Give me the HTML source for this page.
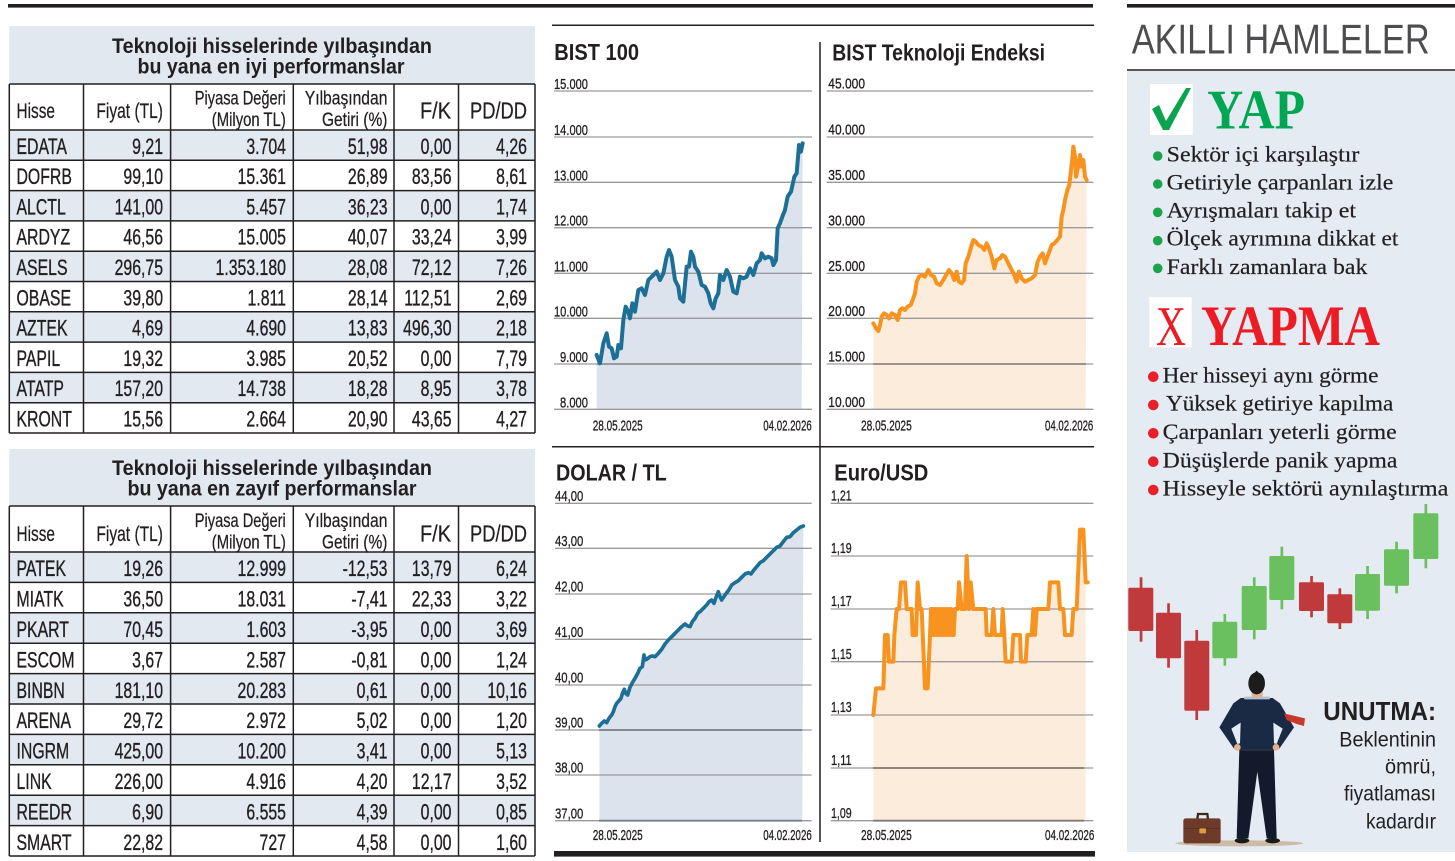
<!DOCTYPE html>
<html><head><meta charset="utf-8"><style>
html,body{margin:0;padding:0;background:#fff;}
svg{display:block;}
</style></head><body>
<svg width="1455" height="861" viewBox="0 0 1455 861" xmlns="http://www.w3.org/2000/svg" font-family="Liberation Sans, sans-serif">
<rect width="1455" height="861" fill="#fff"/>
<!-- top bars -->
<rect x="8" y="4" width="1085" height="3.6" fill="#231f20"/>
<rect x="1127" y="4" width="328" height="3.6" fill="#231f20"/>

<!-- ================= TABLE 1 ================= -->
<rect x="9.3" y="26" width="525.7" height="58" fill="#e1e8f0"/>
<g fill="#e3e9f1">
<rect x="9.3" y="130" width="525.7" height="30.3"/>
<rect x="9.3" y="190.6" width="525.7" height="30.3"/>
<rect x="9.3" y="251.2" width="525.7" height="30.3"/>
<rect x="9.3" y="311.8" width="525.7" height="30.3"/>
<rect x="9.3" y="372.4" width="525.7" height="30.3"/>
</g>
<g fill="#231f20" font-weight="bold" font-size="21" text-anchor="middle">
<text x="272" y="53" textLength="320" lengthAdjust="spacingAndGlyphs">Teknoloji hisselerinde yılbaşından</text>
<text x="271" y="73.5" textLength="267" lengthAdjust="spacingAndGlyphs">bu yana en iyi performanslar</text>
</g>
<g stroke="#231f20" stroke-width="1.5">
<line x1="9.3" y1="84" x2="535" y2="84"/>
<line x1="9.3" y1="130" x2="535" y2="130"/>
<line x1="9.3" y1="160.3" x2="535" y2="160.3"/>
<line x1="9.3" y1="190.6" x2="535" y2="190.6"/>
<line x1="9.3" y1="220.9" x2="535" y2="220.9"/>
<line x1="9.3" y1="251.2" x2="535" y2="251.2"/>
<line x1="9.3" y1="281.5" x2="535" y2="281.5"/>
<line x1="9.3" y1="311.8" x2="535" y2="311.8"/>
<line x1="9.3" y1="342.1" x2="535" y2="342.1"/>
<line x1="9.3" y1="372.4" x2="535" y2="372.4"/>
<line x1="9.3" y1="402.7" x2="535" y2="402.7"/>
<line x1="9.3" y1="433" x2="535" y2="433"/>
<line x1="9.3" y1="84" x2="9.3" y2="433"/>
<line x1="83.5" y1="84" x2="83.5" y2="433"/>
<line x1="170.6" y1="84" x2="170.6" y2="433"/>
<line x1="293.3" y1="84" x2="293.3" y2="433"/>
<line x1="394" y1="84" x2="394" y2="433"/>
<line x1="458.5" y1="84" x2="458.5" y2="433"/>
<line x1="535" y1="84" x2="535" y2="433"/>
</g>
<g fill="#231f20" font-size="21" stroke="#231f20" stroke-width="0.25">
<text x="16.5" y="118" textLength="38.5" lengthAdjust="spacingAndGlyphs">Hisse</text>
<text x="163" y="118" text-anchor="end" textLength="66.6" lengthAdjust="spacingAndGlyphs">Fiyat (TL)</text>
<text x="285.8" y="104.5" text-anchor="end" font-size="19" textLength="91" lengthAdjust="spacingAndGlyphs">Piyasa Değeri</text>
<text x="285.8" y="126" text-anchor="end" font-size="19" textLength="74" lengthAdjust="spacingAndGlyphs">(Milyon TL)</text>
<text x="387.4" y="104.5" text-anchor="end" font-size="19" textLength="82.6" lengthAdjust="spacingAndGlyphs">Yılbaşından</text>
<text x="387.4" y="126" text-anchor="end" font-size="19" textLength="65.4" lengthAdjust="spacingAndGlyphs">Getiri (%)</text>
<text x="451" y="118.5" text-anchor="end" font-size="23" textLength="31" lengthAdjust="spacingAndGlyphs">F/K</text>
<text x="527" y="118.5" text-anchor="end" font-size="23" textLength="57" lengthAdjust="spacingAndGlyphs">PD/DD</text>
</g>
<g fill="#231f20" font-size="22" transform="scale(0.72 1)" stroke="#231f20" stroke-width="0.35">
<g>
<text x="22.9" y="153.8">EDATA</text><text x="22.9" y="184.1">DOFRB</text><text x="22.9" y="214.4">ALCTL</text><text x="22.9" y="244.7">ARDYZ</text><text x="22.9" y="275">ASELS</text><text x="22.9" y="305.3">OBASE</text><text x="22.9" y="335.6">AZTEK</text><text x="22.9" y="365.9">PAPIL</text><text x="22.9" y="396.2">ATATP</text><text x="22.9" y="426.5">KRONT</text>
</g>
<g text-anchor="end">
<text x="226.4" y="153.8">9,21</text><text x="226.4" y="184.1">99,10</text><text x="226.4" y="214.4">141,00</text><text x="226.4" y="244.7">46,56</text><text x="226.4" y="275">296,75</text><text x="226.4" y="305.3">39,80</text><text x="226.4" y="335.6">4,69</text><text x="226.4" y="365.9">19,32</text><text x="226.4" y="396.2">157,20</text><text x="226.4" y="426.5">15,56</text>
<text x="397.2" y="153.8">3.704</text><text x="397.2" y="184.1">15.361</text><text x="397.2" y="214.4">5.457</text><text x="397.2" y="244.7">15.005</text><text x="397.2" y="275">1.353.180</text><text x="397.2" y="305.3">1.811</text><text x="397.2" y="335.6">4.690</text><text x="397.2" y="365.9">3.985</text><text x="397.2" y="396.2">14.738</text><text x="397.2" y="426.5">2.664</text>
<text x="538.2" y="153.8">51,98</text><text x="538.2" y="184.1">26,89</text><text x="538.2" y="214.4">36,23</text><text x="538.2" y="244.7">40,07</text><text x="538.2" y="275">28,08</text><text x="538.2" y="305.3">28,14</text><text x="538.2" y="335.6">13,83</text><text x="538.2" y="365.9">20,52</text><text x="538.2" y="396.2">18,28</text><text x="538.2" y="426.5">20,90</text>
<text x="627.1" y="153.8">0,00</text><text x="627.1" y="184.1">83,56</text><text x="627.1" y="214.4">0,00</text><text x="627.1" y="244.7">33,24</text><text x="627.1" y="275">72,12</text><text x="627.1" y="305.3">112,51</text><text x="627.1" y="335.6">496,30</text><text x="627.1" y="365.9">0,00</text><text x="627.1" y="396.2">8,95</text><text x="627.1" y="426.5">43,65</text>
<text x="731.9" y="153.8">4,26</text><text x="731.9" y="184.1">8,61</text><text x="731.9" y="214.4">1,74</text><text x="731.9" y="244.7">3,99</text><text x="731.9" y="275">7,26</text><text x="731.9" y="305.3">2,69</text><text x="731.9" y="335.6">2,18</text><text x="731.9" y="365.9">7,79</text><text x="731.9" y="396.2">3,78</text><text x="731.9" y="426.5">4,27</text>
</g>
</g>

<!-- ================= TABLE 2 ================= -->
<rect x="9.3" y="449" width="525.7" height="57" fill="#e1e8f0"/>
<g fill="#e3e9f1">
<rect x="9.3" y="552" width="525.7" height="30.4"/>
<rect x="9.3" y="612.8" width="525.7" height="30.4"/>
<rect x="9.3" y="673.6" width="525.7" height="30.4"/>
<rect x="9.3" y="734.4" width="525.7" height="30.4"/>
<rect x="9.3" y="795.2" width="525.7" height="30.4"/>
</g>
<g fill="#231f20" font-weight="bold" font-size="21" text-anchor="middle">
<text x="272" y="475" textLength="320" lengthAdjust="spacingAndGlyphs">Teknoloji hisselerinde yılbaşından</text>
<text x="272" y="495.5" textLength="289" lengthAdjust="spacingAndGlyphs">bu yana en zayıf performanslar</text>
</g>
<g stroke="#231f20" stroke-width="1.5">
<line x1="9.3" y1="506" x2="535" y2="506"/>
<line x1="9.3" y1="552" x2="535" y2="552"/>
<line x1="9.3" y1="582.4" x2="535" y2="582.4"/>
<line x1="9.3" y1="612.8" x2="535" y2="612.8"/>
<line x1="9.3" y1="643.2" x2="535" y2="643.2"/>
<line x1="9.3" y1="673.6" x2="535" y2="673.6"/>
<line x1="9.3" y1="704" x2="535" y2="704"/>
<line x1="9.3" y1="734.4" x2="535" y2="734.4"/>
<line x1="9.3" y1="764.8" x2="535" y2="764.8"/>
<line x1="9.3" y1="795.2" x2="535" y2="795.2"/>
<line x1="9.3" y1="825.6" x2="535" y2="825.6"/>
<line x1="9.3" y1="856" x2="535" y2="856"/>
<line x1="9.3" y1="506" x2="9.3" y2="856"/>
<line x1="83.5" y1="506" x2="83.5" y2="856"/>
<line x1="170.6" y1="506" x2="170.6" y2="856"/>
<line x1="293.3" y1="506" x2="293.3" y2="856"/>
<line x1="394" y1="506" x2="394" y2="856"/>
<line x1="458.5" y1="506" x2="458.5" y2="856"/>
<line x1="535" y1="506" x2="535" y2="856"/>
</g>
<g fill="#231f20" font-size="21" stroke="#231f20" stroke-width="0.25">
<text x="16.5" y="541" textLength="38.5" lengthAdjust="spacingAndGlyphs">Hisse</text>
<text x="163" y="541" text-anchor="end" textLength="66.6" lengthAdjust="spacingAndGlyphs">Fiyat (TL)</text>
<text x="285.8" y="527" text-anchor="end" font-size="19" textLength="91" lengthAdjust="spacingAndGlyphs">Piyasa Değeri</text>
<text x="285.8" y="548.5" text-anchor="end" font-size="19" textLength="74" lengthAdjust="spacingAndGlyphs">(Milyon TL)</text>
<text x="387.4" y="527" text-anchor="end" font-size="19" textLength="82.6" lengthAdjust="spacingAndGlyphs">Yılbaşından</text>
<text x="387.4" y="548.5" text-anchor="end" font-size="19" textLength="65.4" lengthAdjust="spacingAndGlyphs">Getiri (%)</text>
<text x="451" y="541.5" text-anchor="end" font-size="23" textLength="31" lengthAdjust="spacingAndGlyphs">F/K</text>
<text x="527" y="541.5" text-anchor="end" font-size="23" textLength="57" lengthAdjust="spacingAndGlyphs">PD/DD</text>
</g>
<g fill="#231f20" font-size="22" transform="scale(0.72 1)" stroke="#231f20" stroke-width="0.35">
<g>
<text x="22.9" y="576.2">PATEK</text><text x="22.9" y="606.6">MIATK</text><text x="22.9" y="637">PKART</text><text x="22.9" y="667.4">ESCOM</text><text x="22.9" y="697.8">BINBN</text><text x="22.9" y="728.2">ARENA</text><text x="22.9" y="758.6">INGRM</text><text x="22.9" y="789">LINK</text><text x="22.9" y="819.4">REEDR</text><text x="22.9" y="849.8">SMART</text>
</g>
<g text-anchor="end">
<text x="226.4" y="576.2">19,26</text><text x="226.4" y="606.6">36,50</text><text x="226.4" y="637">70,45</text><text x="226.4" y="667.4">3,67</text><text x="226.4" y="697.8">181,10</text><text x="226.4" y="728.2">29,72</text><text x="226.4" y="758.6">425,00</text><text x="226.4" y="789">226,00</text><text x="226.4" y="819.4">6,90</text><text x="226.4" y="849.8">22,82</text>
<text x="397.2" y="576.2">12.999</text><text x="397.2" y="606.6">18.031</text><text x="397.2" y="637">1.603</text><text x="397.2" y="667.4">2.587</text><text x="397.2" y="697.8">20.283</text><text x="397.2" y="728.2">2.972</text><text x="397.2" y="758.6">10.200</text><text x="397.2" y="789">4.916</text><text x="397.2" y="819.4">6.555</text><text x="397.2" y="849.8">727</text>
<text x="538.2" y="576.2">-12,53</text><text x="538.2" y="606.6">-7,41</text><text x="538.2" y="637">-3,95</text><text x="538.2" y="667.4">-0,81</text><text x="538.2" y="697.8">0,61</text><text x="538.2" y="728.2">5,02</text><text x="538.2" y="758.6">3,41</text><text x="538.2" y="789">4,20</text><text x="538.2" y="819.4">4,39</text><text x="538.2" y="849.8">4,58</text>
<text x="627.1" y="576.2">13,79</text><text x="627.1" y="606.6">22,33</text><text x="627.1" y="637">0,00</text><text x="627.1" y="667.4">0,00</text><text x="627.1" y="697.8">0,00</text><text x="627.1" y="728.2">0,00</text><text x="627.1" y="758.6">0,00</text><text x="627.1" y="789">12,17</text><text x="627.1" y="819.4">0,00</text><text x="627.1" y="849.8">0,00</text>
<text x="731.9" y="576.2">6,24</text><text x="731.9" y="606.6">3,22</text><text x="731.9" y="637">3,69</text><text x="731.9" y="667.4">1,24</text><text x="731.9" y="697.8">10,16</text><text x="731.9" y="728.2">1,20</text><text x="731.9" y="758.6">5,13</text><text x="731.9" y="789">3,52</text><text x="731.9" y="819.4">0,85</text><text x="731.9" y="849.8">1,60</text>
</g>
</g>

<!-- ================= CHART FRAME ================= -->
<g stroke="#231f20" stroke-width="1.5">
<line x1="552" y1="25.3" x2="1094" y2="25.3"/>
<line x1="552" y1="446.7" x2="1094" y2="446.7"/>
<line x1="820" y1="42" x2="820" y2="842"/>
</g>
<rect x="554" y="851" width="541" height="5.6" fill="#231f20"/>

<!-- ===== BIST 100 ===== -->
<g transform="translate(545 0) scale(0.33333)">
<polygon fill="#dce3ed" points="155,1065 165,1090 175,1030 185,1000 192,1040 200,1045 207,1075 215,1070 220,1035 228,1045 235,960 242,920 250,935 255,955 262,910 270,935 280,870 290,865 300,885 310,840 320,830 335,815 345,840 355,820 365,770 372,750 380,770 390,840 400,860 405,895 415,905 425,800 432,800 438,755 445,770 450,800 460,815 470,855 480,860 490,880 497,910 505,925 512,895 520,880 525,825 535,840 545,810 555,830 565,875 575,880 585,830 595,835 605,830 615,805 625,825 635,790 645,780 650,760 660,775 670,770 680,775 685,795 693,780 698,685 705,670 712,650 720,630 728,590 738,575 748,530 755,520 762,435 768,455 773,430 770,1228 155,1228"/>
</g>
<g stroke="#9a9a9a" stroke-width="1.3">
<line x1="554" y1="91" x2="812" y2="91"/><line x1="554" y1="137" x2="812" y2="137"/><line x1="554" y1="182.3" x2="812" y2="182.3"/><line x1="554" y1="227.7" x2="812" y2="227.7"/><line x1="554" y1="273.3" x2="812" y2="273.3"/><line x1="554" y1="318.3" x2="812" y2="318.3"/><line x1="554" y1="364" x2="812" y2="364"/><line x1="554" y1="409.3" x2="812" y2="409.3"/>
</g>
<line x1="597" y1="364" x2="801" y2="364" stroke="#888" stroke-width="1.5"/>
<g transform="translate(545 0) scale(0.33333)">
<polyline fill="none" stroke="#1d6f96" stroke-width="12" stroke-linejoin="round" stroke-linecap="round" points="155,1065 165,1090 175,1030 185,1000 192,1040 200,1045 207,1075 215,1070 220,1035 228,1045 235,960 242,920 250,935 255,955 262,910 270,935 280,870 290,865 300,885 310,840 320,830 335,815 345,840 355,820 365,770 372,750 380,770 390,840 400,860 405,895 415,905 425,800 432,800 438,755 445,770 450,800 460,815 470,855 480,860 490,880 497,910 505,925 512,895 520,880 525,825 535,840 545,810 555,830 565,875 575,880 585,830 595,835 605,830 615,805 625,825 635,790 645,780 650,760 660,775 670,770 680,775 685,795 693,780 698,685 705,670 712,650 720,630 728,590 738,575 748,530 755,520 762,435 768,455 773,430"/>
</g>
<text x="554.3" y="60" font-size="23" font-weight="bold" fill="#231f20" textLength="84.7" lengthAdjust="spacingAndGlyphs">BIST 100</text>
<g font-size="15" fill="#231f20" stroke="#231f20" stroke-width="0.3" text-anchor="end">
<text x="588" y="89" textLength="34" lengthAdjust="spacingAndGlyphs">15.000</text>
<text x="588" y="135" textLength="34" lengthAdjust="spacingAndGlyphs">14.000</text>
<text x="588" y="180.3" textLength="34" lengthAdjust="spacingAndGlyphs">13.000</text>
<text x="588" y="225.7" textLength="34" lengthAdjust="spacingAndGlyphs">12.000</text>
<text x="588" y="271.3" textLength="34" lengthAdjust="spacingAndGlyphs">11.000</text>
<text x="588" y="316.3" textLength="34" lengthAdjust="spacingAndGlyphs">10.000</text>
<text x="588" y="362" textLength="28" lengthAdjust="spacingAndGlyphs">9.000</text>
<text x="588" y="407.3" textLength="28" lengthAdjust="spacingAndGlyphs">8.000</text>
</g>
<g font-size="15" fill="#231f20" stroke="#231f20" stroke-width="0.3">
<text x="592.7" y="430.7" textLength="50" lengthAdjust="spacingAndGlyphs">28.05.2025</text>
<text x="763.3" y="430.7" textLength="48.4" lengthAdjust="spacingAndGlyphs">04.02.2026</text>
</g>

<!-- ===== BIST TEKNOLOJI ===== -->
<g transform="translate(815 0) scale(0.33333)">
<polygon fill="#fcecdc" points="175,970 183,985 190,993 195,975 200,950 207,940 215,945 222,955 230,940 240,945 248,960 255,930 262,925 270,930 278,920 287,915 293,900 300,880 305,845 312,830 320,825 330,830 340,810 348,825 357,830 365,850 375,855 385,840 393,825 402,810 410,820 418,840 425,815 432,845 440,850 447,840 452,790 460,770 467,745 475,720 482,725 490,735 500,740 508,750 515,730 522,745 530,770 538,805 545,780 555,775 562,765 570,770 580,790 590,810 598,825 605,845 612,815 620,835 630,845 640,840 650,835 660,825 668,785 675,770 683,760 690,790 697,770 703,755 710,735 718,730 727,720 735,710 740,650 745,630 750,600 757,570 763,555 767,520 772,475 775,440 780,470 783,530 790,495 795,465 800,500 805,480 810,530 815,540 812,1228 175,1228"/>
</g>
<g stroke="#9a9a9a" stroke-width="1.3">
<line x1="826.7" y1="91" x2="1093.3" y2="91"/><line x1="826.7" y1="137" x2="1093.3" y2="137"/><line x1="826.7" y1="182.3" x2="1093.3" y2="182.3"/><line x1="826.7" y1="227.7" x2="1093.3" y2="227.7"/><line x1="826.7" y1="273.3" x2="1093.3" y2="273.3"/><line x1="826.7" y1="318.3" x2="1093.3" y2="318.3"/><line x1="826.7" y1="364" x2="1093.3" y2="364"/><line x1="826.7" y1="409.3" x2="1093.3" y2="409.3"/>
</g>
<line x1="873.3" y1="364" x2="1086" y2="364" stroke="#807a74" stroke-width="1.6"/>
<g transform="translate(815 0) scale(0.33333)">
<polyline fill="none" stroke="#f7931e" stroke-width="12" stroke-linejoin="round" stroke-linecap="round" points="175,970 183,985 190,993 195,975 200,950 207,940 215,945 222,955 230,940 240,945 248,960 255,930 262,925 270,930 278,920 287,915 293,900 300,880 305,845 312,830 320,825 330,830 340,810 348,825 357,830 365,850 375,855 385,840 393,825 402,810 410,820 418,840 425,815 432,845 440,850 447,840 452,790 460,770 467,745 475,720 482,725 490,735 500,740 508,750 515,730 522,745 530,770 538,805 545,780 555,775 562,765 570,770 580,790 590,810 598,825 605,845 612,815 620,835 630,845 640,840 650,835 660,825 668,785 675,770 683,760 690,790 697,770 703,755 710,735 718,730 727,720 735,710 740,650 745,630 750,600 757,570 763,555 767,520 772,475 775,440 780,470 783,530 790,495 795,465 800,500 805,480 810,530 815,540"/>
</g>
<text x="832.3" y="60.7" font-size="23" font-weight="bold" fill="#231f20" textLength="212.7" lengthAdjust="spacingAndGlyphs">BIST Teknoloji Endeksi</text>
<g font-size="15" fill="#231f20" stroke="#231f20" stroke-width="0.3">
<text x="828.3" y="88.7" textLength="36.7" lengthAdjust="spacingAndGlyphs">45.000</text>
<text x="828.3" y="134.7" textLength="36.7" lengthAdjust="spacingAndGlyphs">40.000</text>
<text x="828.3" y="180" textLength="36.7" lengthAdjust="spacingAndGlyphs">35.000</text>
<text x="828.3" y="225.4" textLength="36.7" lengthAdjust="spacingAndGlyphs">30.000</text>
<text x="828.3" y="271" textLength="36.7" lengthAdjust="spacingAndGlyphs">25.000</text>
<text x="828.3" y="316" textLength="36.7" lengthAdjust="spacingAndGlyphs">20.000</text>
<text x="828.3" y="361.7" textLength="36.7" lengthAdjust="spacingAndGlyphs">15.000</text>
<text x="828.3" y="407" textLength="36.7" lengthAdjust="spacingAndGlyphs">10.000</text>
<text x="861" y="430.7" textLength="50.7" lengthAdjust="spacingAndGlyphs">28.05.2025</text>
<text x="1045" y="430.7" textLength="48.3" lengthAdjust="spacingAndGlyphs">04.02.2026</text>
</g>

<!-- ===== DOLAR / TL ===== -->
<g transform="translate(545 440) scale(0.33333)">
<polygon fill="#dce3ed" points="163,858 170,850 178,843 185,848 192,835 200,825 205,815 210,800 215,790 222,782 228,775 233,758 238,748 242,760 248,765 255,742 262,728 270,715 278,700 285,685 292,680 297,645 300,660 305,658 315,650 322,648 330,650 340,640 350,628 360,612 370,600 380,590 390,580 400,570 410,560 420,552 428,558 435,560 442,545 450,535 458,520 465,515 475,505 485,495 492,485 500,480 507,490 512,475 520,455 525,470 530,480 540,465 550,452 560,435 570,428 580,422 590,412 600,402 610,398 618,402 625,392 635,380 645,368 655,362 665,352 675,342 685,332 695,322 705,318 715,305 725,292 735,290 745,278 755,270 765,262 775,258 772,1142 163,1142"/>
</g>
<g stroke="#9a9a9a" stroke-width="1.3">
<line x1="555" y1="503.3" x2="811.7" y2="503.3"/><line x1="555" y1="548.3" x2="811.7" y2="548.3"/><line x1="555" y1="594" x2="811.7" y2="594"/><line x1="555" y1="639.3" x2="811.7" y2="639.3"/><line x1="555" y1="685" x2="811.7" y2="685"/><line x1="555" y1="730" x2="811.7" y2="730"/><line x1="555" y1="775" x2="811.7" y2="775"/><line x1="555" y1="820.7" x2="811.7" y2="820.7"/>
</g>
<g stroke="#7a7f88" stroke-width="1.8">
<line x1="599" y1="730" x2="802" y2="730"/><line x1="599" y1="820.7" x2="802" y2="820.7"/>
</g>
<g transform="translate(545 440) scale(0.33333)">
<polyline fill="none" stroke="#1d6f96" stroke-width="11" stroke-linejoin="round" stroke-linecap="round" points="163,858 170,850 178,843 185,848 192,835 200,825 205,815 210,800 215,790 222,782 228,775 233,758 238,748 242,760 248,765 255,742 262,728 270,715 278,700 285,685 292,680 297,645 300,660 305,658 315,650 322,648 330,650 340,640 350,628 360,612 370,600 380,590 390,580 400,570 410,560 420,552 428,558 435,560 442,545 450,535 458,520 465,515 475,505 485,495 492,485 500,480 507,490 512,475 520,455 525,470 530,480 540,465 550,452 560,435 570,428 580,422 590,412 600,402 610,398 618,402 625,392 635,380 645,368 655,362 665,352 675,342 685,332 695,322 705,318 715,305 725,292 735,290 745,278 755,270 765,262 775,258"/>
</g>
<text x="556" y="480.7" font-size="23" font-weight="bold" fill="#231f20" textLength="110.7" lengthAdjust="spacingAndGlyphs">DOLAR / TL</text>
<g font-size="15" fill="#231f20" stroke="#231f20" stroke-width="0.3">
<text x="555" y="501" textLength="28.3" lengthAdjust="spacingAndGlyphs">44,00</text>
<text x="555" y="546" textLength="28.3" lengthAdjust="spacingAndGlyphs">43,00</text>
<text x="555" y="591.7" textLength="28.3" lengthAdjust="spacingAndGlyphs">42,00</text>
<text x="555" y="637" textLength="28.3" lengthAdjust="spacingAndGlyphs">41,00</text>
<text x="555" y="682.7" textLength="28.3" lengthAdjust="spacingAndGlyphs">40,00</text>
<text x="555" y="727.7" textLength="28.3" lengthAdjust="spacingAndGlyphs">39,00</text>
<text x="555" y="772.7" textLength="28.3" lengthAdjust="spacingAndGlyphs">38,00</text>
<text x="555" y="818.4" textLength="28.3" lengthAdjust="spacingAndGlyphs">37,00</text>
<text x="592.7" y="840" textLength="50" lengthAdjust="spacingAndGlyphs">28.05.2025</text>
<text x="763.3" y="840" textLength="48.4" lengthAdjust="spacingAndGlyphs">04.02.2026</text>
</g>

<!-- ===== EURO / USD ===== -->
<g transform="translate(815 440) scale(0.33333)">
<polygon fill="#fcecdc" points="175,825 183,745 205,745 210,585 218,585 222,665 235,665 238,585 245,507 252,507 258,427 270,427 275,507 290,507 293,585 303,585 308,427 315,507 320,507 330,745 338,745 345,585 348,507 352,507 356,585 360,507 364,585 368,507 372,585 376,507 380,585 384,507 388,585 392,507 396,585 400,507 404,585 408,507 412,585 416,585 420,507 428,507 432,427 440,507 450,507 455,348 462,507 467,427 475,507 512,507 515,585 530,585 535,507 540,585 560,585 563,507 568,585 572,665 590,665 595,585 615,585 618,665 632,665 637,585 650,585 655,507 660,585 665,507 700,507 705,427 730,427 735,507 745,507 750,585 770,585 775,507 785,507 795,269 805,269 812,427 812,1142 175,1142"/>
</g>
<g stroke="#9a9a9a" stroke-width="1.3">
<line x1="830.7" y1="503.3" x2="1093.3" y2="503.3"/><line x1="830.7" y1="556" x2="1093.3" y2="556"/><line x1="830.7" y1="609" x2="1093.3" y2="609"/><line x1="830.7" y1="661.7" x2="1093.3" y2="661.7"/><line x1="830.7" y1="715" x2="1093.3" y2="715"/><line x1="830.7" y1="768" x2="1093.3" y2="768"/><line x1="830.7" y1="820.7" x2="1093.3" y2="820.7"/>
</g>
<g stroke="#807a74" stroke-width="1.8">
<line x1="873.3" y1="768" x2="1084" y2="768"/><line x1="873.3" y1="820.7" x2="1084" y2="820.7"/>
</g>
<g transform="translate(815 440) scale(0.33333)">
<polyline fill="none" stroke="#f7931e" stroke-width="12" stroke-linejoin="round" stroke-linecap="round" points="175,825 183,745 205,745 210,585 218,585 222,665 235,665 238,585 245,507 252,507 258,427 270,427 275,507 290,507 293,585 303,585 308,427 315,507 320,507 330,745 338,745 345,585 348,507 352,507 356,585 360,507 364,585 368,507 372,585 376,507 380,585 384,507 388,585 392,507 396,585 400,507 404,585 408,507 412,585 416,585 420,507 428,507 432,427 440,507 450,507 455,348 462,507 467,427 475,507 512,507 515,585 530,585 535,507 540,585 560,585 563,507 568,585 572,665 590,665 595,585 615,585 618,665 632,665 637,585 650,585 655,507 660,585 665,507 700,507 705,427 730,427 735,507 745,507 750,585 770,585 775,507 785,507 795,269 805,269 812,427 818,427"/>
</g>
<text x="834.3" y="480.7" font-size="23" font-weight="bold" fill="#231f20" textLength="94" lengthAdjust="spacingAndGlyphs">Euro/USD</text>
<g font-size="15" fill="#231f20" stroke="#231f20" stroke-width="0.3">
<text x="831" y="500.5" textLength="20.7" lengthAdjust="spacingAndGlyphs">1,21</text>
<text x="831" y="553.2" textLength="20.7" lengthAdjust="spacingAndGlyphs">1,19</text>
<text x="831" y="606.2" textLength="20.7" lengthAdjust="spacingAndGlyphs">1,17</text>
<text x="831" y="658.9" textLength="20.7" lengthAdjust="spacingAndGlyphs">1,15</text>
<text x="831" y="712.2" textLength="20.7" lengthAdjust="spacingAndGlyphs">1,13</text>
<text x="831" y="765.2" textLength="20.7" lengthAdjust="spacingAndGlyphs">1,11</text>
<text x="831" y="817.9" textLength="20.7" lengthAdjust="spacingAndGlyphs">1,09</text>
<text x="861" y="840" textLength="50.7" lengthAdjust="spacingAndGlyphs">28.05.2025</text>
<text x="1045" y="840" textLength="49.3" lengthAdjust="spacingAndGlyphs">04.02.2026</text>
</g>

<!-- ================= RIGHT PANEL ================= -->
<text x="1131.7" y="53.3" font-size="42" fill="#4d4d4f" textLength="298" lengthAdjust="spacingAndGlyphs">AKILLI HAMLELER</text>
<rect x="1127" y="71" width="328" height="781" fill="#e4ebf2"/>
<line x1="1127" y1="70" x2="1455" y2="70" stroke="#231f20" stroke-width="1.5"/>

<!-- YAP -->
<rect x="1150" y="84" width="42.7" height="51" fill="#fff"/>
<polygon points="1152,109 1159,105 1166,121 1186,88 1191,88 1169,130 1163,130" fill="#0aa350"/>
<text x="1207.3" y="128.3" font-family="Liberation Serif, serif" font-weight="bold" font-size="56" fill="#00a651" textLength="97.7" lengthAdjust="spacingAndGlyphs">YAP</text>
<g fill="#1aa34a">
<circle cx="1157.7" cy="156" r="4.8"/><circle cx="1157.7" cy="184" r="4.8"/><circle cx="1157.7" cy="212.3" r="4.8"/><circle cx="1157.7" cy="240.7" r="4.8"/><circle cx="1157.7" cy="268.3" r="4.8"/>
</g>
<g font-family="Liberation Serif, serif" font-size="22" fill="#231f20" stroke="#231f20" stroke-width="0.2">
<text x="1166.7" y="161.7" textLength="192.7" lengthAdjust="spacingAndGlyphs">Sektör içi karşılaştır</text>
<text x="1166.7" y="189.3" textLength="226.7" lengthAdjust="spacingAndGlyphs">Getiriyle çarpanları izle</text>
<text x="1166.7" y="217.3" textLength="189.3" lengthAdjust="spacingAndGlyphs">Ayrışmaları takip et</text>
<text x="1166.7" y="245.7" textLength="231.7" lengthAdjust="spacingAndGlyphs">Ölçek ayrımına dikkat et</text>
<text x="1166.7" y="274" textLength="200.7" lengthAdjust="spacingAndGlyphs">Farklı zamanlara bak</text>
</g>

<!-- YAPMA -->
<rect x="1149.3" y="297.3" width="42.4" height="50" fill="#fff"/>
<text x="1156" y="345" font-family="Liberation Serif, serif" font-size="56" fill="#ed1c24" textLength="30" lengthAdjust="spacingAndGlyphs">X</text>
<text x="1201" y="345" font-family="Liberation Serif, serif" font-weight="bold" font-size="57" fill="#ed1c24" textLength="179" lengthAdjust="spacingAndGlyphs">YAPMA</text>
<g fill="#e8202a">
<circle cx="1153.3" cy="376.7" r="5.3"/><circle cx="1153.3" cy="405" r="5.3"/><circle cx="1153.3" cy="433.3" r="5.3"/><circle cx="1153.3" cy="461.7" r="5.3"/><circle cx="1153.3" cy="490" r="5.3"/>
</g>
<g font-family="Liberation Serif, serif" font-size="22" fill="#231f20" stroke="#231f20" stroke-width="0.2">
<text x="1162.7" y="382.7" textLength="215.7" lengthAdjust="spacingAndGlyphs">Her hisseyi aynı görme</text>
<text x="1166" y="410.7" textLength="227.3" lengthAdjust="spacingAndGlyphs">Yüksek getiriye kapılma</text>
<text x="1162.7" y="439" textLength="234" lengthAdjust="spacingAndGlyphs">Çarpanları yeterli görme</text>
<text x="1162.7" y="467.3" textLength="234.7" lengthAdjust="spacingAndGlyphs">Düşüşlerde panik yapma</text>
<text x="1162.7" y="495.7" textLength="285.7" lengthAdjust="spacingAndGlyphs">Hisseyle sektörü aynılaştırma</text>
</g>

<!-- candlesticks -->
<g fill="#c0393b">
<rect x="1139.7" y="577.3" width="2.7" height="64.4"/><rect x="1128.3" y="587.7" width="25" height="43.3" rx="1.5"/>
<rect x="1167.2" y="603.3" width="2.7" height="64.4"/><rect x="1156" y="612.7" width="25" height="45.6" rx="1.5"/>
<rect x="1195.4" y="630" width="2.7" height="90"/><rect x="1184.3" y="640.7" width="25" height="70" rx="1.5"/>
<rect x="1310.2" y="576" width="2.7" height="41.3"/><rect x="1299" y="582.3" width="25" height="28.7" rx="1.5"/>
<rect x="1338.5" y="588.3" width="2.7" height="40.7"/><rect x="1327.3" y="594.3" width="25" height="29" rx="1.5"/>
</g>
<g fill="#6abf5e">
<rect x="1223.5" y="614" width="2.7" height="51.7"/><rect x="1212.3" y="621.7" width="25" height="36.6" rx="1.5"/>
<rect x="1252.9" y="577.3" width="2.7" height="62"/><rect x="1241.7" y="586" width="25" height="44" rx="1.5"/>
<rect x="1280.5" y="546.7" width="2.7" height="62.6"/><rect x="1269.3" y="556" width="25" height="44" rx="1.5"/>
<rect x="1366.2" y="566" width="2.7" height="53"/><rect x="1355" y="574" width="25" height="36.7" rx="1.5"/>
<rect x="1395.2" y="541.7" width="2.7" height="51.6"/><rect x="1384" y="549.3" width="25" height="36.4" rx="1.5"/>
<rect x="1424.5" y="504" width="2.7" height="64.3"/><rect x="1413.3" y="513.3" width="25" height="45.7" rx="1.5"/>
</g>

<!-- businessman -->
<g transform="translate(1120 500) scale(0.33333)">
<ellipse cx="358" cy="1030" rx="192" ry="9" fill="#cdbba8"/>
<path d="M232,958 L234,942 L262,942 L264,958" fill="none" stroke="#3a2a22" stroke-width="7"/>
<rect x="190" y="955" width="112" height="75" rx="7" fill="#6e3b2b"/>
<line x1="192" y1="985" x2="300" y2="985" stroke="#5a2e22" stroke-width="3"/>
<rect x="238" y="985" width="20" height="15" rx="3" fill="#d6a040"/>
<polygon points="358,748 462,748 470,1015 440,1015 412,815 385,1015 350,1015" fill="#121a2c"/>
<ellipse cx="366" cy="1022" rx="22" ry="8" fill="#1a1a1a"/>
<ellipse cx="458" cy="1022" rx="22" ry="8" fill="#1a1a1a"/>
<rect x="395" y="570" width="33" height="30" fill="#e5b08a"/>
<polygon points="362,594 458,594 480,610 522,682 478,746 462,740 462,752 358,752 358,740 342,746 298,682 340,610" fill="#1b2a44"/>
<polygon points="362,668 334,686 352,732 360,730" fill="#e4ebf2"/>
<polygon points="460,668 488,686 470,732 462,730" fill="#e4ebf2"/>
<rect x="372" y="590" width="78" height="8" rx="3" fill="#b9c0cb"/>
<line x1="358" y1="750" x2="462" y2="750" stroke="#2d3548" stroke-width="4"/>
<circle cx="352" cy="742" r="10" fill="#e5b08a"/>
<circle cx="468" cy="742" r="10" fill="#e5b08a"/>
<polygon points="492,640 555,655 552,678 530,672 500,660" fill="#c8382b"/>
<ellipse cx="410" cy="550" rx="25" ry="33" fill="#1c1c1c"/>
<polygon points="400,522 410,512 420,522" fill="#1c1c1c"/>
</g>

<!-- UNUTMA -->
<text x="1436" y="720" text-anchor="end" font-size="26" font-weight="bold" fill="#231f20" textLength="112.7" lengthAdjust="spacingAndGlyphs">UNUTMA:</text>
<g font-size="21" fill="#231f20" text-anchor="end">
<text x="1436" y="746.5" textLength="96.7" lengthAdjust="spacingAndGlyphs">Beklentinin</text>
<text x="1436" y="773.5" textLength="51" lengthAdjust="spacingAndGlyphs">ömrü,</text>
<text x="1436" y="800.5" textLength="92" lengthAdjust="spacingAndGlyphs">fiyatlaması</text>
<text x="1436" y="828.3" textLength="70" lengthAdjust="spacingAndGlyphs">kadardır</text>
</g>
</svg>
</body></html>
